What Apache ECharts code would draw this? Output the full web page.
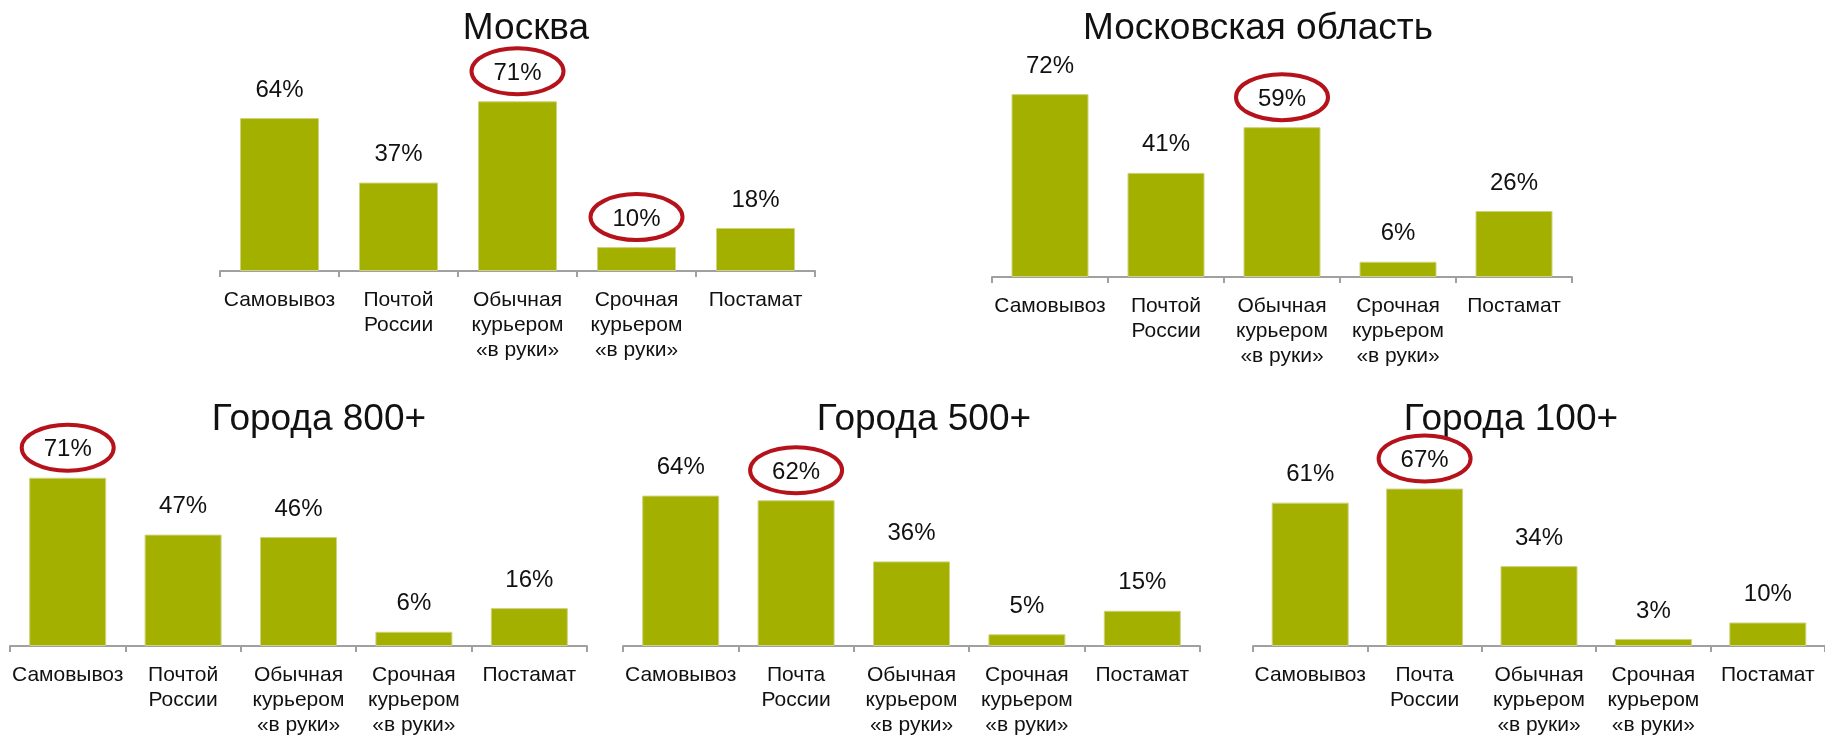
<!DOCTYPE html>
<html>
<head>
<meta charset="utf-8">
<title>Способы доставки</title>
<script src="https://cdn.jsdelivr.net/npm/echarts/dist/echarts.min.js"></script>
<style>
html, body { margin: 0; padding: 0; background: #fff; }
#main { width: 1825px; height: 738px; }
</style>
</head>
<body>
<div id="main"></div>
<script>
// категории (две подписи для Почты)
var catsA = ['Самовывоз', 'Почтой\nРоссии', 'Обычная\nкурьером\n«в руки»', 'Срочная\nкурьером\n«в руки»', 'Постамат'];
var catsB = ['Самовывоз', 'Почта\nРоссии', 'Обычная\nкурьером\n«в руки»', 'Срочная\nкурьером\n«в руки»', 'Постамат'];

var titles = ['Москва', 'Московская область', 'Города 800+', 'Города 500+', 'Города 100+'];

var moscow = [64, 37, 71, 10, 18];
var moscowRegion = [72, 41, 59, 6, 26];
var city800 = [71, 47, 46, 6, 16];
var city500 = [64, 62, 36, 5, 15];
var city100 = [61, 67, 34, 3, 10];

// какие столбцы обведены красным
var circledMoscow = [2, 3];
var circledRegion = [2];
var circled800 = [0];
var circled500 = [1];
var circled100 = [1];

var chartDom = document.getElementById('main');
var myChart = echarts.init(chartDom);

var FONT = '"Liberation Sans", Arial, sans-serif';
var barColor = '#a4b000';

// расположение панелей
var panels = [
    {left: 220, top: 32, width: 595, height: 239, tx: 521, ty: 24, cats: catsA, data: moscow, circ: circledMoscow},
    {left: 992, top: 23, width: 580, height: 254, tx: 1253, ty: 24, cats: catsA, data: moscowRegion, circ: circledRegion},
    {left: 10, top: 409, width: 577, height: 241, tx: 314, ty: 415, cats: catsA, data: city800, circ: circled800},
    {left: 623, top: 411, width: 577, height: 239, tx: 919, ty: 415, cats: catsB, data: city500, circ: circled500},
    {left: 1253, top: 411, width: 577, height: 239, tx: 1506, ty: 415, cats: catsB, data: city100, circ: circled100}
];

var grid = [], xAxis = [], yAxis = [], series = [], title = [];

panels.forEach(function(p, i) {
    title.push({
        text: titles[i],
        left: p.tx,
        top: p.ty,
        textAlign: 'center',
        textVerticalAlign: 'middle',
        textStyle: {fontFamily: FONT, fontSize: 37, fontWeight: 'normal', color: '#111'}
    });
    grid.push({left: p.left, top: p.top, width: p.width, height: p.height, containLabel: false});
    xAxis.push({
        type: 'category',
        gridIndex: i,
        data: p.cats,
        axisLine: {lineStyle: {color: '#a0a0a0', width: 2}},
        axisTick: {show: true, length: 6, lineStyle: {color: '#a0a0a0', width: 2}},
        axisLabel: {
            interval: 0,
            margin: 17,
            fontFamily: FONT,
            fontSize: 21,
            lineHeight: 25,
            color: '#111'
        }
    });
    yAxis.push({type: 'value', gridIndex: i, min: 0, max: 100, show: false});
    series.push({
        type: 'bar',
        xAxisIndex: i,
        yAxisIndex: i,
        data: p.data,
        barWidth: i == 0 ? 79 : 77,
        itemStyle: {color: barColor, borderColor: '#cdd37e', borderWidth: 1},
        label: {
            show: true,
            position: 'top',
            distance: 16,
            formatter: '{c}%',
            fontFamily: FONT,
            fontSize: 24,
            color: '#111'
        },
        animation: false
    });
});

var option = {
    animation: false,
    backgroundColor: '#fff',
    title: title,
    grid: grid,
    xAxis: xAxis,
    yAxis: yAxis,
    series: series
};

option && myChart.setOption(option);

// красные овалы вокруг выделенных значений
var rings = [];
panels.forEach(function(p, i) {
    p.circ.forEach(function(k) {
        var pt = myChart.convertToPixel({gridIndex: i}, [k, p.data[k]]);
        rings.push({
            type: 'ellipse',
            shape: {cx: pt[0], cy: pt[1] - 30, rx: 46, ry: 23},
            style: {fill: 'none', stroke: '#b5121b', lineWidth: 4},
            z: 100
        });
    });
});
myChart.setOption({graphic: rings});
</script>
</body>
</html>
